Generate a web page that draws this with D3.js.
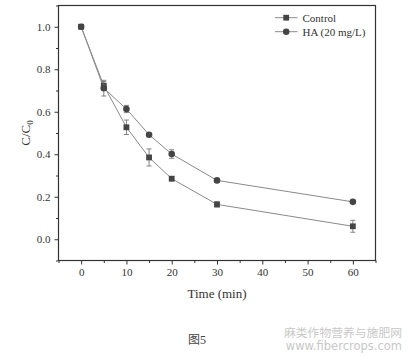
<!DOCTYPE html>
<html><head><meta charset="utf-8">
<script src="https://cdn.jsdelivr.net/npm/d3@7"></script>
<style>body{margin:0;background:#fff}svg{display:block}</style>
</head><body>
<script>
const times = [0, 5, 10, 15, 20, 30, 60];
const controlVals = [1.0, 0.723, 0.527, 0.385, 0.285, 0.164, 0.061];
const controlErr = [0.004, 0.02, 0.034, 0.04, 0.01, 0.012, 0.028];
const haVals = [1.0, 0.711, 0.613, 0.492, 0.401, 0.277, 0.176];
const haErr = [0.004, 0.037, 0.017, 0.007, 0.02, 0.008, 0.007];
const seriesNames = ["Control", "HA (20 mg/L)"];
const xTicks = [0, 10, 20, 30, 40, 50, 60];
const yTicks = [0.0, 0.2, 0.4, 0.6, 0.8, 1.0];

const W = 408, H = 357;
const svg = d3.select("body").append("svg").attr("width", W).attr("height", H);
const L = 58.5, R = 375.5, T = 5.5, B = 260.5;
const x = d3.scaleLinear().domain([-5, 65]).range([L, R]);
const y = d3.scaleLinear().domain([-0.1, 1.1]).range([B, T]);
const serif = "'Liberation Serif','Times New Roman',serif";
const axisCol = "#333";

// frame
svg.append("rect").attr("x", L).attr("y", T).attr("width", R - L).attr("height", B - T)
  .attr("fill", "none").attr("stroke", axisCol).attr("stroke-width", 1.2);

// axes
const xAxis = d3.axisBottom(x).tickValues(xTicks).tickSize(4).tickPadding(4).tickFormat(d3.format("d"));
const gx = svg.append("g").attr("transform", `translate(0,${B})`).call(xAxis);
const xMinor = d3.axisBottom(x).tickValues([-5, 5, 15, 25, 35, 45, 55, 65]).tickSize(2.5).tickFormat("");
const gxm = svg.append("g").attr("transform", `translate(0,${B})`).call(xMinor);
const yAxis = d3.axisLeft(y).tickValues(yTicks).tickSize(4).tickPadding(4).tickFormat(d3.format(".1f"));
const gy = svg.append("g").attr("transform", `translate(${L},0)`).call(yAxis);
const yMinor = d3.axisLeft(y).tickValues([-0.1, 0.1, 0.3, 0.5, 0.7, 0.9, 1.1]).tickSize(2.5).tickFormat("");
const gym = svg.append("g").attr("transform", `translate(${L},0)`).call(yMinor);
[gx, gxm, gy, gym].forEach(g => {
  g.select(".domain").remove();
  g.selectAll("line").attr("stroke", axisCol).attr("stroke-width", 1);
  g.selectAll("text").attr("font-family", serif).attr("font-size", 11).attr("fill", "#333");
});

// axis titles
svg.append("text").attr("x", x(30)).attr("y", 298).attr("text-anchor", "middle")
  .attr("font-family", serif).attr("font-size", 13).attr("fill", "#333").text("Time (min)");
const yl = svg.append("text").attr("transform", `translate(30,133) rotate(-90)`)
  .attr("text-anchor", "middle").attr("font-family", serif).attr("font-size", 13).attr("fill", "#333");
yl.append("tspan").text("C/C");
yl.append("tspan").attr("font-size", 9).attr("dy", 3).text("0");

// series
const lineCol = "#8a8a8a", markCol = "#454545", errCol = "#777";
const series = [
  {name: seriesNames[0], vals: controlVals, err: controlErr, shape: "square"},
  {name: seriesNames[1], vals: haVals, err: haErr, shape: "circle"}
];
const line = d3.line().x(d => x(d[0])).y(d => y(d[1]));
function drawMarker(g, cx, cy, shape) {
  if (shape === "square") g.append("rect").attr("x", cx - 2.9).attr("y", cy - 2.9).attr("width", 5.8).attr("height", 5.8).attr("fill", markCol);
  else g.append("circle").attr("cx", cx).attr("cy", cy).attr("r", 3.3).attr("fill", markCol);
}
series.forEach(s => {
  const pts = times.map((t, i) => [t, s.vals[i], s.err[i]]);
  svg.append("path").datum(pts).attr("d", line).attr("fill", "none").attr("stroke", lineCol).attr("stroke-width", 1);
});
series.forEach(s => {
  const g = svg.append("g");
  times.forEach((t, i) => {
    const cx = x(t), y1 = y(s.vals[i] + s.err[i]), y2 = y(s.vals[i] - s.err[i]);
    g.append("line").attr("x1", cx).attr("x2", cx).attr("y1", y1).attr("y2", y2).attr("stroke", errCol).attr("stroke-width", 0.9);
    [y1, y2].forEach(yy => g.append("line").attr("x1", cx - 2.5).attr("x2", cx + 2.5).attr("y1", yy).attr("y2", yy).attr("stroke", errCol).attr("stroke-width", 0.9));
  });
  times.forEach((t, i) => drawMarker(g, x(t), y(s.vals[i]), s.shape));
});

// legend
series.forEach((s, i) => {
  const ly = 17.7 + i * 14;
  svg.append("line").attr("x1", 275).attr("x2", 297.5).attr("y1", ly).attr("y2", ly).attr("stroke", lineCol).attr("stroke-width", 1);
  drawMarker(svg, 286.2, ly, s.shape);
  svg.append("text").attr("x", 302.5).attr("y", ly + 3.8).attr("font-family", serif).attr("font-size", 11).attr("fill", "#333").text(s.name);
});

// caption & watermark
svg.append("text").attr("x", 197).attr("y", 344).attr("text-anchor", "middle")
  .attr("font-family", "'Liberation Serif','Noto Sans CJK SC',serif").attr("font-size", 12).attr("fill", "#444").text("图5");
svg.append("text").attr("x", 402).attr("y", 336.5).attr("text-anchor", "end")
  .attr("font-family", "'Noto Sans CJK SC',sans-serif").attr("font-size", 11.8).attr("fill", "#c8c8c8").text("麻类作物营养与施肥网");
svg.append("text").attr("x", 402).attr("y", 349.5).attr("text-anchor", "end")
  .attr("font-family", "'DejaVu Sans',sans-serif").attr("font-size", 11.5).attr("fill", "#c8c8c8").text("www.fibercrops.com");
</script>
</body></html>
